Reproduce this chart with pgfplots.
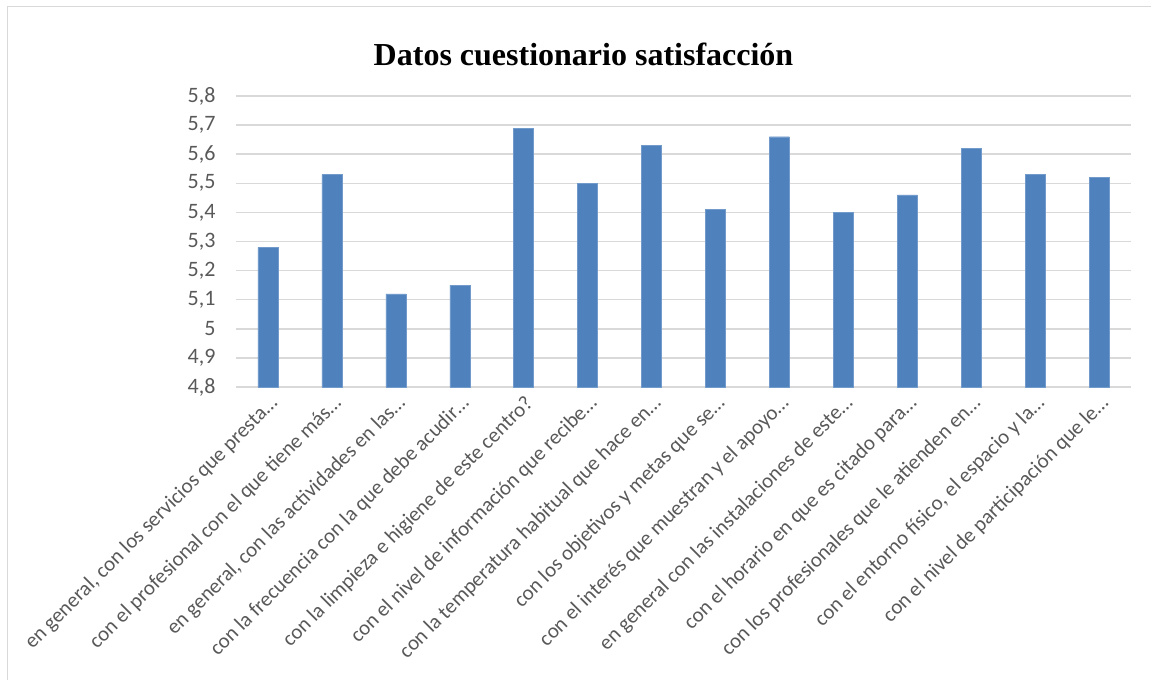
\documentclass[border=0pt]{standalone}
\usepackage{pgfplots}
\pgfplotsset{compat=1.18}
\usepackage{fontspec}
\setmainfont{Carlito}
\newfontfamily\titlefont{Liberation Serif}
\definecolor{barblue}{HTML}{4F81BD}
\definecolor{gridgray}{HTML}{D9D9D9}
\definecolor{textgray}{HTML}{595959}
\begin{document}
\begin{tikzpicture}
\useasboundingbox (0,0) rectangle (1151pt,-680pt);
\draw[gridgray, line width=1pt] (7pt,-680pt) -- (7pt,-6pt) -- (1151pt,-6pt);
\node[font=\titlefont\bfseries\fontsize{32}{36}\selectfont, anchor=base] at (583.5pt,-65pt) {Datos cuestionario satisfacción};
\begin{axis}[
    at={(236pt,-387pt)}, anchor=south west,
    scale only axis,
    width=895pt, height=291pt,
    ybar, bar width=20pt,
    xmin=-0.5, xmax=13.5,
    ymin=4.8, ymax=5.8,
    ytick={4.8,4.9,5.0,5.1,5.2,5.3,5.4,5.5,5.6,5.7,5.8},
    xtick=data,
    xticklabels={
      {en general, con los servicios que presta…},
      {con el profesional con el que tiene más…},
      {en general, con las actividades en las…},
      {con la frecuencia con la que debe acudir…},
      {con la limpieza e higiene de este centro?},
      {con el nivel de información que recibe…},
      {con la temperatura habitual que hace en…},
      {con los objetivos y metas que se…},
      {con el interés que muestran y el apoyo…},
      {en general con las instalaciones de este…},
      {con el horario en que es citado para…},
      {con los profesionales que le atienden en…},
      {con el entorno físico, el espacio y la…},
      {con el nivel de participación que le…}},
    x tick label style={yshift=-2pt, rotate=45, anchor=north east, font=\fontsize{21}{23}\selectfont, text=textgray},
    y tick label style={xshift=-17pt, font=\fontsize{22}{25}\selectfont, text=textgray},
    /pgf/number format/assume math mode=true,
    /pgf/number format/use comma,
    /pgf/number format/fixed,
    /pgf/number format/precision=1,
    major tick length=0pt,
    axis line style={draw=none},
    ymajorgrids,
    grid style={gridgray, line width=1.5pt},
    enlargelimits=false,
    clip=false,
]
\addplot[fill=barblue, draw=barblue!80!white] coordinates {
(0,5.28) (1,5.53) (2,5.12) (3,5.15) (4,5.69) (5,5.50) (6,5.63)
(7,5.41) (8,5.66) (9,5.40) (10,5.46) (11,5.62) (12,5.53) (13,5.52)};
\end{axis}
\end{tikzpicture}
\end{document}
